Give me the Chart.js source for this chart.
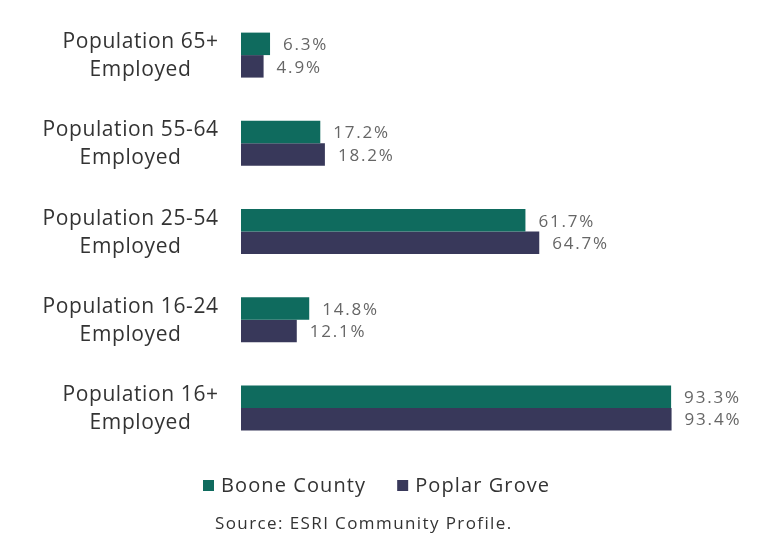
<!DOCTYPE html>
<html><head><meta charset="utf-8">
<script src="https://cdn.jsdelivr.net/npm/chart.js@4"></script>
<style>html,body{margin:0;padding:0;background:#fff;}#wrap{width:775px;height:537px;}</style>
</head><body><div id="wrap"><canvas id="c" width="775" height="537"></canvas></div>
<script>
const categories = [["Population 65+","Employed"],["Population 55-64","Employed"],["Population 25-54","Employed"],["Population 16-24","Employed"],["Population 16+","Employed"]];
const booneCounty = [6.3, 17.2, 61.7, 14.8, 93.3];
const poplarGrove = [4.9, 18.2, 64.7, 12.1, 93.4];
const seriesNames = ["Boone County", "Poplar Grove"];
const seriesColors = ["#0f6b5e", "#38385a"];
const sourceText = "Source: ESRI Community Profile.";
const FONT = "'Open Sans', sans-serif";

function setSpacing(ctx, px) { if ('letterSpacing' in ctx) ctx.letterSpacing = px + "px"; }

const labelPlugin = {
  id: 'customLabels',
  afterDatasetsDraw(chart) {
    const ctx = chart.ctx;
    const yScale = chart.scales.y;
    ctx.save();
    // category labels
    ctx.font = "21px " + FONT;
    setSpacing(ctx, 0.6);
    ctx.fillStyle = "#333333";
    ctx.textAlign = "left";
    ctx.textBaseline = "alphabetic";
    const rightEdge = 218;
    categories.forEach((lines, i) => {
      const cy = yScale.getPixelForValue(i);
      const widths = lines.map(l => ctx.measureText(l).width - 0.6);
      const widest = Math.max(...widths);
      const cx = rightEdge - widest / 2;
      lines.forEach((l, j) => {
        ctx.fillText(l, cx - widths[j] / 2, cy - 7 + j * 28);
      });
    });
    // value labels
    ctx.font = "17px " + FONT;
    setSpacing(ctx, 1.8);
    ctx.fillStyle = "#666666";
    ctx.textBaseline = "middle";
    chart.data.datasets.forEach((ds, di) => {
      const meta = chart.getDatasetMeta(di);
      meta.data.forEach((bar, i) => {
        ctx.fillText(ds.data[i].toFixed(1) + "%", bar.x + 13, bar.y + 1.5);
      });
    });
    // legend
    ctx.font = "20px " + FONT;
    setSpacing(ctx, 1.1);
    let x = 203;
    const ly = 485;
    seriesNames.forEach((name, i) => {
      ctx.fillStyle = seriesColors[i];
      ctx.fillRect(x, ly - 5, 11, 11);
      x += 11 + 7;
      ctx.fillStyle = "#333333";
      ctx.fillText(name, x, ly + 1);
      x += ctx.measureText(name).width + 31;
    });
    // source
    ctx.font = "17px " + FONT;
    setSpacing(ctx, 1.4);
    ctx.fillStyle = "#333333";
    ctx.fillText(sourceText, 215, 524);
    ctx.restore();
  }
};

new Chart(document.getElementById('c'), {
  type: 'bar',
  data: {
    labels: categories,
    datasets: [
      { label: seriesNames[0], data: booneCounty, backgroundColor: seriesColors[0], categoryPercentage: 0.51, barPercentage: 1.0 },
      { label: seriesNames[1], data: poplarGrove, backgroundColor: seriesColors[1], categoryPercentage: 0.51, barPercentage: 1.0 }
    ]
  },
  options: {
    indexAxis: 'y',
    responsive: false,
    animation: false,
    devicePixelRatio: 1,
    layout: { padding: { left: 241, right: 73, top: 11, bottom: 85 } },
    scales: {
      x: { display: false, min: 0, max: 100 },
      y: { display: false }
    },
    plugins: {
      legend: { display: false },
      title: { display: false },
      tooltip: { enabled: false }
    }
  },
  plugins: [labelPlugin]
});
</script>
</body></html>
